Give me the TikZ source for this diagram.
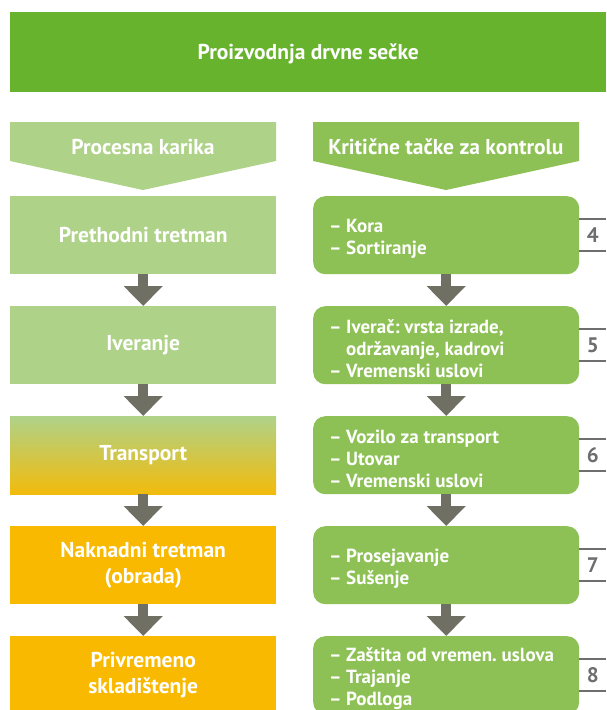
\documentclass[tikz,border=0pt]{standalone}
\usepackage{fontspec}
\setmainfont{PT Sans}
\usetikzlibrary{arrows.meta}
\frenchspacing

\definecolor{bannergreen}{RGB}{103,179,46}
\definecolor{palegreen}{RGB}{175,210,137}
\definecolor{boxgreen}{RGB}{141,193,85}
\definecolor{chiporange}{RGB}{248,185,0}
\definecolor{arrowgray}{RGB}{112,111,100}
\definecolor{numgray}{RGB}{110,110,110}

\newcommand{\pdash}{–\hspace{4.5pt}}

\tikzset{
    stagebox/.style={fill=#1, minimum width=266pt, minimum height=78pt, inner sep=0pt,
        anchor=north west, text=white, align=center,
        font=\fontsize{21.5}{26}\selectfont\bfseries},
    checkbox/.style={fill=boxgreen, rounded corners=12pt, minimum width=266pt,
        minimum height=78pt, inner sep=0pt, anchor=north west},
    checktext/.style={anchor=west, inner sep=0pt, text=white, align=left,
        font=\fontsize{19}{22}\selectfont\bfseries},
    headtext/.style={text=white, font=\fontsize{21.5}{24}\selectfont\bfseries},
    flowarrow/.style={arrowgray, line width=10pt, -{Triangle[width=38pt,length=20pt]}},
    bracket/.style={numgray, line width=2pt},
    numlabel/.style={text=numgray, font=\fontsize{21}{24}\selectfont\bfseries}
}

\begin{document}
\begin{tikzpicture}[x=1pt,y=-1pt]
    \useasboundingbox (0,0) rectangle (606,710);
    \clip (0,0) rectangle (606,710);

    % banner
    \node[fill=bannergreen, minimum width=596pt, minimum height=80pt, inner sep=0pt,
        text depth=1pt, anchor=north west, headtext] (banner) at (10,12) {Proizvodnja drvne sečke};

    % column heads
    \fill[palegreen] (10,122) -- (276,122) -- (276,161) -- (143,190) -- (10,161) -- cycle;
    \fill[boxgreen] (313,122) -- (579,122) -- (579,161) -- (446,190) -- (313,161) -- cycle;
    \node[headtext] (headleft) at (143,147) {Procesna karika};
    \node[headtext] (headright) at (446,147) {Kritične tačke za kontrolu};

    % process chain
    \node[stagebox=palegreen] (s1) at (10,196) {Prethodni tretman};
    \node[stagebox=palegreen] (s2) at (10,306) {Iveranje};
    \node[stagebox=palegreen, top color=palegreen, middle color=palegreen!50!chiporange,
        bottom color=chiporange!92!palegreen] (s3) at (10,416) {Transport};
    \node[stagebox=chiporange] (s4) at (10,526) {Naknadni tretman\\(obrada)};
    \node[stagebox=chiporange] (s5) at (10,636) {Privremeno\\skladištenje};

    % control points
    \node[checkbox] (c1) at (313,196) {};
    \node[checkbox] (c2) at (313,306) {};
    \node[checkbox] (c3) at (313,416) {};
    \node[checkbox] (c4) at (313,526) {};
    \node[checkbox] (c5) at (313,636) {};
    \node[checktext] (t1) at ([xshift=16pt,yshift=-3.5pt]c1.west) {\pdash Kora\\\pdash Sortiranje};
    \node[checktext] (t2) at ([xshift=16pt,yshift=-3.5pt]c2.west) {\pdash Iverač: vrsta izrade,\\\phantom{\pdash}održavanje, kadrovi\\\pdash Vremenski uslovi};
    \node[checktext] (t3) at ([xshift=16pt,yshift=-3.5pt]c3.west) {\pdash Vozilo za transport\\\pdash Utovar\\\pdash Vremenski uslovi};
    \node[checktext] (t4) at ([xshift=16pt,yshift=-3.5pt]c4.west) {\pdash Prosejavanje\\\pdash Sušenje};
    \node[checktext] (t5) at ([xshift=16pt,yshift=-3.5pt]c5.west) {\pdash Zaštita od vremen. uslova\\\pdash Trajanje\\\pdash Podloga};

    % arrows
    \foreach \a/\b in {s1/s2,s2/s3,s3/s4,s4/s5,c1/c2,c2/c3,c3/c4,c4/c5}
        \draw[flowarrow] (\a) -- (\b);

    % chapter numbers
    \foreach \c/\n in {c1/4,c2/5,c3/6,c4/7,c5/8} {
        \draw[bracket] ([yshift=16pt]\c.east) -- ++(27,0);
        \draw[bracket] ([yshift=-16pt]\c.east) -- ++(27,0);
        \node[numlabel] (num\n) at ([xshift=13.5pt]\c.east) {\n};
    }
\end{tikzpicture}
\end{document}
